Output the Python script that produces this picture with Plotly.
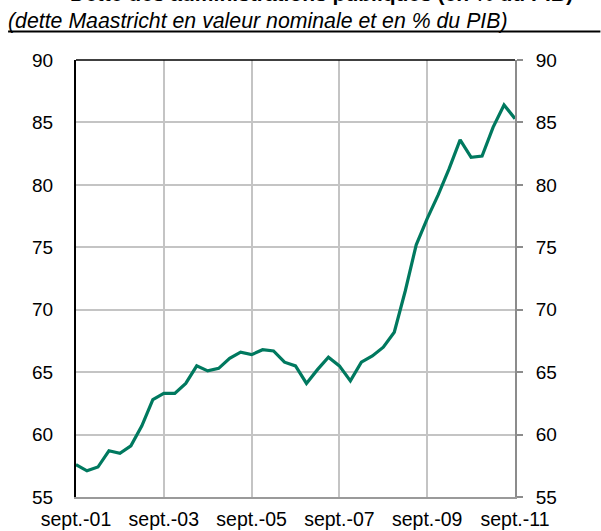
import plotly.graph_objects as go

# Quarterly data, sept.-01 .. sept.-11
months = ["mars", "juin", "sept.", "déc."]
quarters = [f"{m}-{yr:02d}" for yr in range(1, 12) for m in months][2:2 + 41]

debt = [57.6, 57.1, 57.4, 58.7, 58.5, 59.1, 60.7, 62.8, 63.3, 63.3,
        64.1, 65.5, 65.1, 65.3, 66.1, 66.6, 66.4, 66.8, 66.7, 65.8,
        65.5, 64.1, 65.2, 66.2, 65.5, 64.3, 65.8, 66.3, 67.0, 68.2,
        71.5, 75.2, 77.3, 79.2, 81.3, 83.6, 82.2, 82.3, 84.6, 86.4, 85.3]

tick_labels = ["sept.-01", "sept.-03", "sept.-05", "sept.-07", "sept.-09", "sept.-11"]
y_ticks = [55, 60, 65, 70, 75, 80, 85, 90]

title_text = "Dette des administrations publiques (en % du PIB)"
subtitle_text = "(dette Maastricht en valeur nominale et en % du PIB)"

W, H = 601, 531
# plot area in window pixels
Lw, Rw, Tw, Bw = 76, 515.5, 60, 497.5

def px(xw):
    return (xw - Lw) / (Rw - Lw)

def py(yw):
    return (Bw - yw) / (Bw - Tw)

xidx = list(range(len(quarters)))
tickvals = [quarters.index(t) for t in tick_labels]

FONT = "Liberation Sans, Arial, sans-serif"
GREEN = "#00795F"
GRID = "#C4C4C4"

fig = go.Figure()
fig.add_trace(go.Scatter(x=xidx, y=debt, mode="lines",
                         line=dict(color=GREEN, width=3.2),
                         hoverinfo="skip", showlegend=False))
fig.add_trace(go.Scatter(x=xidx, y=debt, mode="lines", yaxis="y2",
                         line=dict(color="rgba(0,0,0,0)", width=0),
                         hoverinfo="skip", showlegend=False))

fig.update_layout(
    width=W, height=H, autosize=False,
    margin=dict(l=Lw, r=W - Rw, t=Tw, b=H - Bw, pad=0, autoexpand=False),
    paper_bgcolor="white", plot_bgcolor="white",
    font=dict(family=FONT, size=19, color="black"),
    showlegend=False,
    xaxis=dict(range=[0, len(quarters) - 1], tickmode="array",
               tickvals=tickvals, ticktext=tick_labels, automargin=False,
               showgrid=True, gridcolor=GRID, gridwidth=1.6,
               showline=True, linecolor="#9A9A9A", linewidth=2,
               ticks="", ticklabelstandoff=4, zeroline=False,
               tickfont=dict(size=19.5)),
    yaxis=dict(range=[55, 90], tickmode="array", tickvals=y_ticks,
               automargin=False,
               showgrid=True, gridcolor=GRID, gridwidth=1.6,
               showline=True, linecolor="black", linewidth=2,
               ticks="", ticklabelstandoff=17, zeroline=False,
               tickfont=dict(size=19)),
    yaxis2=dict(range=[55, 90], tickmode="array", tickvals=y_ticks,
                automargin=False,
                overlaying="y", side="right", showgrid=False,
                showline=True, linecolor="#8C8C8C", linewidth=2,
                ticks="outside", ticklen=6, tickwidth=1.5, tickcolor="#8C8C8C",
                ticklabelstandoff=9, zeroline=False,
                tickfont=dict(size=19)),
)

# top border of plot area (black)
fig.add_shape(type="line", xref="paper", yref="paper",
              x0=0, x1=1, y0=1, y1=1, line=dict(color="black", width=1.6))
# underline below subtitle
fig.add_shape(type="line", xref="paper", yref="paper",
              x0=px(8), x1=px(601), y0=py(31.5), y1=py(31.5),
              line=dict(color="black", width=2))

# subtitle
fig.add_annotation(text=f"<i>{subtitle_text}</i>", xref="paper", yref="paper",
                   x=px(6), y=py(20.5), xanchor="left", yanchor="middle",
                   showarrow=False, font=dict(family=FONT, size=21.3, color="black"))
# title (mostly cut off at top of picture, as in the reference)
fig.add_annotation(text=f"<b>{title_text}</b>", xref="paper", yref="paper",
                   x=px(576), y=py(6.5), xanchor="right", yanchor="bottom",
                   showarrow=False, font=dict(family=FONT, size=21, color="black"))

fig.write_html("out.html",
               config={"displayModeBar": False},
               post_script="document.body.style.margin='0';"
                           "document.body.style.overflow='hidden';")
